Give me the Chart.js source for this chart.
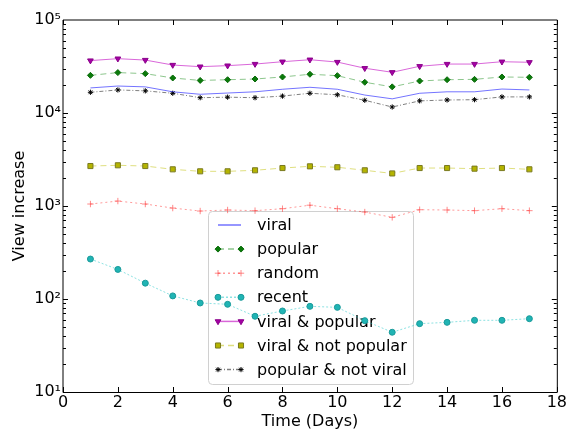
<!DOCTYPE html>
<html>
<head>
<meta charset="utf-8">
<script src="https://cdn.jsdelivr.net/npm/chart.js@4/dist/chart.umd.min.js"></script>
<style>
  html, body { margin: 0; padding: 0; background: #fff; }
  #wrap { width: 568px; height: 433px; }
</style>
</head>
<body>
<div id="wrap"><canvas id="viewChart" width="568" height="433"></canvas></div>
<script>
// data
const days = [1, 2, 3, 4, 5, 6, 7, 8, 9, 10, 11, 12, 13, 14, 15, 16, 17];
const viral = [18600, 19500, 19100, 16900, 15900, 16400, 16900, 18000, 18900, 18000, 15600, 14200, 16300, 16900, 16900, 18100, 17700];
const popular = [25400, 27200, 26500, 23800, 22400, 22800, 23200, 24400, 26100, 25200, 21400, 19100, 22100, 22800, 23000, 24400, 24200];
const random = [1050, 1130, 1050, 950, 883, 906, 891, 935, 1020, 935, 861, 755, 912, 906, 891, 935, 891];
const recent = [269, 208, 148, 108, 90.6, 87.7, 65.2, 74.3, 83.4, 81.3, 58.5, 43.9, 54.3, 56.1, 59.0, 59.0, 61.4];
const viralPopular = [36600, 38400, 37100, 32800, 31500, 32300, 33600, 35600, 37400, 35300, 30300, 27400, 31800, 33600, 33600, 35600, 35100];
const viralNotPopular = [2690, 2740, 2690, 2480, 2360, 2360, 2420, 2560, 2670, 2610, 2420, 2240, 2560, 2560, 2520, 2560, 2480];
const popularNotViral = [16700, 17700, 17300, 16300, 14600, 14800, 14600, 15200, 16300, 15700, 13700, 11600, 13500, 13800, 13900, 14900, 14900];

const xTicks = [0, 2, 4, 6, 8, 10, 12, 14, 16, 18];
const yTicks = [10, 100, 1000, 10000, 100000];
const yTickLabels = ['10\u00B9', '10\u00B2', '10\u00B3', '10\u2074', '10\u2075'];

const FONT = 'DejaVu Sans';

function pts(vals) { return vals.map((v, i) => ({ x: days[i], y: v })); }

function series(label, vals, line, dash, style, fill, edge, radius, rotation) {
  return {
    label: label,
    data: pts(vals),
    borderColor: line,
    borderWidth: 1,
    borderDash: dash,
    pointStyle: style,
    pointRadius: radius,
    pointRotation: rotation || 0,
    pointBackgroundColor: fill,
    pointBorderColor: edge,
    pointBorderWidth: 1,
    tension: 0,
    fill: false
  };
}

const datasets = [
  series('viral', viral, 'rgba(0,0,255,0.55)', [], false, 'transparent', 'transparent', 0),
  series('popular', popular, 'rgba(0,128,0,0.45)', [6, 4], 'rectRot', '#0a7a0a', '#0a6a0a', 3),
  series('random', random, 'rgba(255,0,0,0.4)', [2, 3], 'cross', 'rgba(255,60,60,0.6)', 'rgba(255,60,60,0.6)', 3.2),
  series('recent', recent, 'rgba(0,190,190,0.45)', [2, 2], 'circle', '#20b4b4', '#1a9a9a', 3),
  series('viral & popular', viralPopular, 'rgba(191,0,191,0.6)', [], 'triangle', '#a400a4', '#8a008a', 3.3, 180),
  series('viral & not popular', viralNotPopular, 'rgba(191,191,0,0.5)', [6, 4], 'rect', '#b4b400', '#7a7a20', 3.6),
  series('popular & not viral', popularNotViral, 'rgba(0,0,0,0.5)', [4, 2, 1, 2], 'star', '#000', '#000', 2.6)
];

// inward ticks on every side plus the black frame
const framePlugin = {
  id: 'frame',
  afterDatasetsDraw(chart) {
    const { ctx, chartArea: a, scales } = chart;
    const xs = scales.x, ys = scales.y;
    ctx.save();
    ctx.strokeStyle = '#000';
    ctx.lineWidth = 1;
    ctx.beginPath();
    xTicks.forEach(v => {
      const px = Math.round(xs.getPixelForValue(v)) + 0.5;
      ctx.moveTo(px, a.bottom); ctx.lineTo(px, a.bottom - 5);
      ctx.moveTo(px, a.top); ctx.lineTo(px, a.top + 5);
    });
    for (let d = 1; d < 5; d++) {
      for (let m = 1; m < 10; m++) {
        const v = m * Math.pow(10, d);
        const py = Math.round(ys.getPixelForValue(v)) + 0.5;
        const len = m === 1 ? 5 : 3;
        ctx.moveTo(a.left, py); ctx.lineTo(a.left + len, py);
        ctx.moveTo(a.right, py); ctx.lineTo(a.right - len, py);
      }
    }
    ctx.stroke();
    ctx.beginPath();
    ctx.moveTo(a.left, a.top); ctx.lineTo(a.right + 0.5, a.top);
    ctx.moveTo(a.right + 0.5, a.top); ctx.lineTo(a.right + 0.5, a.bottom + 0.5);
    ctx.moveTo(a.right + 0.5, a.bottom + 0.5); ctx.lineTo(a.left, a.bottom + 0.5);
    ctx.moveTo(a.left, a.bottom + 0.5); ctx.lineTo(a.left, a.top);
    ctx.stroke();
    ctx.restore();
  }
};

// matplotlib-like legend box inside the plot, drawn under the lines
const legendPlugin = {
  id: 'mplLegend',
  beforeDatasetsDraw(chart) {
    const ctx = chart.ctx;
    const box = { x: 208, y: 211, w: 205, h: 173 };
    ctx.save();
    ctx.fillStyle = 'rgba(255,255,255,0.9)';
    ctx.strokeStyle = '#d0d0d0';
    ctx.lineWidth = 1;
    ctx.beginPath();
    if (ctx.roundRect) ctx.roundRect(box.x + 0.5, box.y + 0.5, box.w, box.h, 4);
    else ctx.rect(box.x + 0.5, box.y + 0.5, box.w, box.h);
    ctx.fill();
    ctx.stroke();
    ctx.font = '16px "' + FONT + '"';
    ctx.textBaseline = 'middle';
    chart.data.datasets.forEach((ds, i) => {
      const y = 225 + i * 24.1;
      ctx.save();
      ctx.strokeStyle = ds.borderColor;
      ctx.lineWidth = 1.5;
      ctx.setLineDash(ds.borderDash);
      ctx.beginPath();
      ctx.moveTo(218, y); ctx.lineTo(241, y);
      ctx.stroke();
      ctx.restore();
      if (ds.pointStyle && Chart.helpers && Chart.helpers.drawPoint) {
        ctx.save();
        ctx.fillStyle = ds.pointBackgroundColor;
        ctx.strokeStyle = ds.pointBorderColor;
        ctx.lineWidth = 1;
        const opts = { pointStyle: ds.pointStyle, radius: ds.pointRadius, rotation: ds.pointRotation, borderWidth: 1 };
        Chart.helpers.drawPoint(ctx, opts, 218, y);
        Chart.helpers.drawPoint(ctx, opts, 241, y);
        ctx.restore();
      }
      ctx.fillStyle = '#000';
      ctx.fillText(ds.label, 257, y + 1);
    });
    ctx.restore();
  }
};

new Chart(document.getElementById('viewChart').getContext('2d'), {
  type: 'line',
  data: { datasets: datasets },
  options: {
    responsive: false,
    animation: false,
    events: [],
    layout: { padding: { top: 20, right: 9, left: 0, bottom: 0 } },
    plugins: { legend: { display: false }, tooltip: { enabled: false } },
    scales: {
      x: {
        type: 'linear',
        min: 0,
        max: 18,
        afterBuildTicks: s => { s.ticks = xTicks.map(v => ({ value: v })); },
        afterFit: s => { s.height = 41; },
        grid: { display: false, drawTicks: false },
        border: { display: false },
        ticks: { color: '#000', padding: 1, maxRotation: 0, autoSkip: false, font: { family: FONT, size: 16 } },
        title: { display: true, text: 'Time (Days)', color: '#000', padding: { top: 0, bottom: 2 }, font: { family: FONT, size: 16 } }
      },
      y: {
        type: 'logarithmic',
        min: 10,
        max: 100000,
        afterBuildTicks: s => { s.ticks = yTicks.map(v => ({ value: v })); },
        afterFit: s => { s.width = 63; },
        grid: { display: false, drawTicks: false },
        border: { display: false },
        ticks: {
          color: '#000',
          padding: 2,
          autoSkip: false,
          font: { family: FONT, size: 16 },
          callback: v => { const i = yTicks.indexOf(v); return i >= 0 ? yTickLabels[i] : ''; }
        },
        title: { display: true, text: 'View increase', color: '#000', padding: { top: 10, bottom: 0 }, font: { family: FONT, size: 16 } }
      }
    }
  },
  plugins: [legendPlugin, framePlugin]
});
</script>
</body>
</html>
